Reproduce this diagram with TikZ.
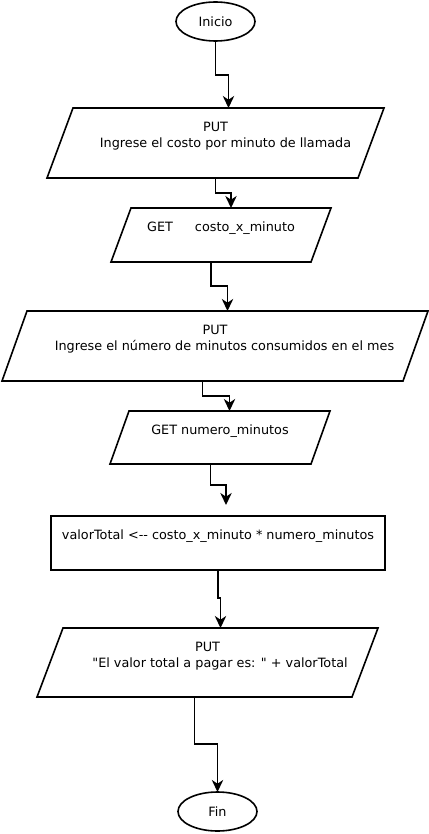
\documentclass[tikz,border=0pt]{standalone}
\usepackage{fontspec}
\setmainfont{DejaVu Sans}[Ligatures=TeXOff]
\usetikzlibrary{shapes.geometric,arrows.meta,calc}
\newcommand\px{0.75pt}

\tikzset{
  term/.style={draw, ellipse, minimum width=79*\px, minimum height=39*\px, inner sep=0pt, outer sep=0pt},
  io/.style={rectangle, inner sep=0pt, outer sep=0pt, align=center},
  proc/.style={draw, rectangle, inner sep=0pt, outer sep=0pt, align=center},
  flow/.style={-{Stealth[length=9pt,width=8.5pt,inset=2.8pt]}},
}

\begin{document}
\begin{tikzpicture}[x=0.75pt,y=0.75pt,yscale=-1,xscale=1, line width=1.2pt, font=\fontsize{9.6}{12}\selectfont]
\useasboundingbox (0,0) rectangle (428,834);

% start / end
\node[term] (inicio) at (215.5,21.5) {Inicio};
\node[term] (fin) at (217.5,811.5) {Fin};

% input / output (text boxes, outline drawn below)
\node[io, minimum width=337*\px, minimum height=70*\px] (put1) at (215.5,143)
  {PUT\\\hspace*{15pt}Ingrese el costo por minuto de llamada\\\mbox{}};
\node[io, minimum width=220*\px, minimum height=54*\px] (get1) at (221,235)
  {GET\hspace*{16.5pt}costo\_x\_minuto\\\mbox{}};
\node[io, minimum width=426*\px, minimum height=70*\px] (put2) at (215,346)
  {PUT\\\hspace*{14.25pt}Ingrese el número de minutos consumidos en el mes\\\mbox{}};
\node[io, minimum width=220*\px, minimum height=53*\px] (get2) at (220,437.5)
  {GET numero\_minutos\\\mbox{}};
\node[io, minimum width=341*\px, minimum height=69*\px] (put3) at (207.5,662.5)
  {PUT\\\hspace*{18.75pt}"El valor total a pagar es: " + valorTotal\\\mbox{}};

\foreach \n/\s in {put1/26, get1/20, put2/25, get2/19, put3/26}
  \draw (\n.south west) -- ($(\n.north west)+(\s,0)$) -- (\n.north east)
    -- ($(\n.south east)-(\s,0)$) -- cycle;

% process
\node[proc, minimum width=334*\px, minimum height=54*\px] (calc) at (218,543)
  {valorTotal <\mbox{-}\mbox{-} costo\_x\_minuto * numero\_minutos\\\mbox{}};

% connectors
\coordinate (gap) at (226,505);
\draw[flow] (inicio.south) -- ++(0,34) -| ($(put1.north)+(13,0)$);
\draw[flow] (put1.south) -- ++(0,15) -| ($(get1.north)+(10,0)$);
\draw[flow] ($(get1.south)-(10,0)$) -- ++(0,24) -| ($(put2.north)+(12.5,0)$);
\draw[flow] ($(put2.south)-(12.5,0)$) -- ++(0,15) -| ($(get2.north)+(9.5,0)$);
\draw[flow] ($(get2.south)-(9.5,0)$) -- ++(0,21) -| (gap);
\draw[flow] (calc.south) -- ++(0,28) -| ($(put3.north)+(13,0)$);
\draw[flow] ($(put3.south)-(13,0)$) -- ++(0,47) -| (fin.north);

\end{tikzpicture}
\end{document}
